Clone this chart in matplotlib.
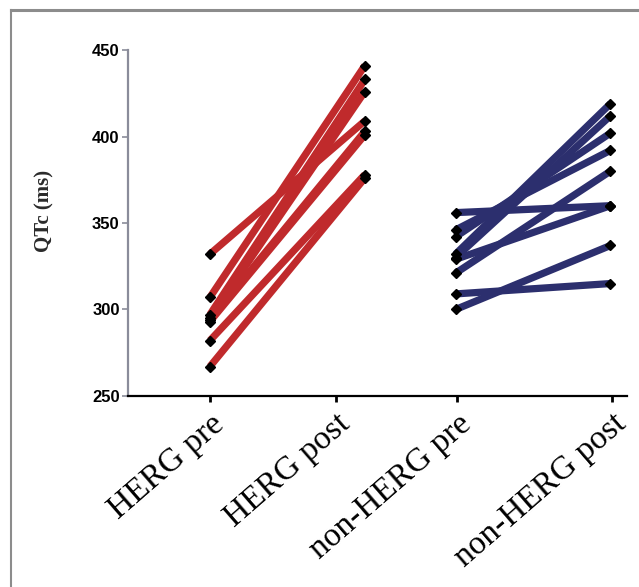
import matplotlib.pyplot as plt
from matplotlib.lines import Line2D

categories = ["HERG pre", "HERG post", "non-HERG pre", "non-HERG post"]

# QTc (ms), one pair per subject
herg_pre = [332, 307, 297, 295, 294, 293, 282, 267]
herg_post = [409, 441, 433, 426, 403, 401, 378, 376]

nonherg_pre = [356, 346, 342, 332, 330, 329, 321, 309, 300]
nonherg_post = [360, 392, 402, 419, 412, 360, 380, 315, 337]

# category positions (original plot is unevenly spaced)
tick_pos = [0, 1, 1.96, 3.19]
herg_x = [0, 1.23]
nonherg_x = [1.95, 3.18]

red = "#c02a2c"
blue = "#2c2f6e"

fig = plt.figure(figsize=(6.39, 5.87), dpi=100)
ax = fig.add_axes([0.2003, 0.3254, 0.7807, 0.5894])

for a, b in zip(herg_pre, herg_post):
    ax.plot(herg_x, [a, b], color=red, lw=5.2, solid_capstyle="butt", zorder=2)
for a, b in zip(nonherg_pre, nonherg_post):
    ax.plot(nonherg_x, [a, b], color=blue, lw=5.2, solid_capstyle="butt", zorder=2)

ax.plot([herg_x[0]] * len(herg_pre), herg_pre, "D", color="black", ms=5.5, zorder=3)
ax.plot([herg_x[1]] * len(herg_post), herg_post, "D", color="black", ms=5.5, zorder=3)
ax.plot([nonherg_x[0]] * len(nonherg_pre), nonherg_pre, "D", color="black", ms=5.5, zorder=3)
ax.plot([nonherg_x[1]] * len(nonherg_post), nonherg_post, "D", color="black", ms=5.5, zorder=3)

ax.set_xlim(-0.65, 3.31)
ax.set_ylim(250, 450)
ax.set_yticks([250, 300, 350, 400, 450])
ax.set_xticks(tick_pos)
ax.set_xticklabels(categories, rotation=41, ha="right", rotation_mode="anchor",
                   family="Liberation Serif", fontsize=24)

for lbl in ax.get_yticklabels():
    lbl.set_fontweight("bold")
    lbl.set_fontsize(12)
    lbl.set_family("Liberation Sans")

ax.spines["top"].set_visible(False)
ax.spines["right"].set_visible(False)
ax.spines["left"].set_color("#8a8c9a")
ax.spines["left"].set_linewidth(1.6)
ax.spines["bottom"].set_color("black")
ax.spines["bottom"].set_linewidth(1.6)
ax.tick_params(axis="y", colors="#8a8c9a", labelcolor="black", length=4, width=1.2, pad=2)
ax.tick_params(axis="x", colors="black", length=4, width=2, pad=5)

ax.set_ylabel("QTc (ms)", family="Liberation Serif", fontweight="bold",
              fontsize=15, color="#2a2a2a")
ax.yaxis.set_label_coords(-0.148, 0.535)

# grey frame (only top and left visible in the original crop)
fig.add_artist(Line2D([0.017, 1.0], [0.983, 0.983], color="#8c8c8c", lw=2.2))
fig.add_artist(Line2D([0.017, 0.017], [0.0, 0.983], color="#8c8c8c", lw=1.5))

fig.savefig("out.png", dpi=100)
